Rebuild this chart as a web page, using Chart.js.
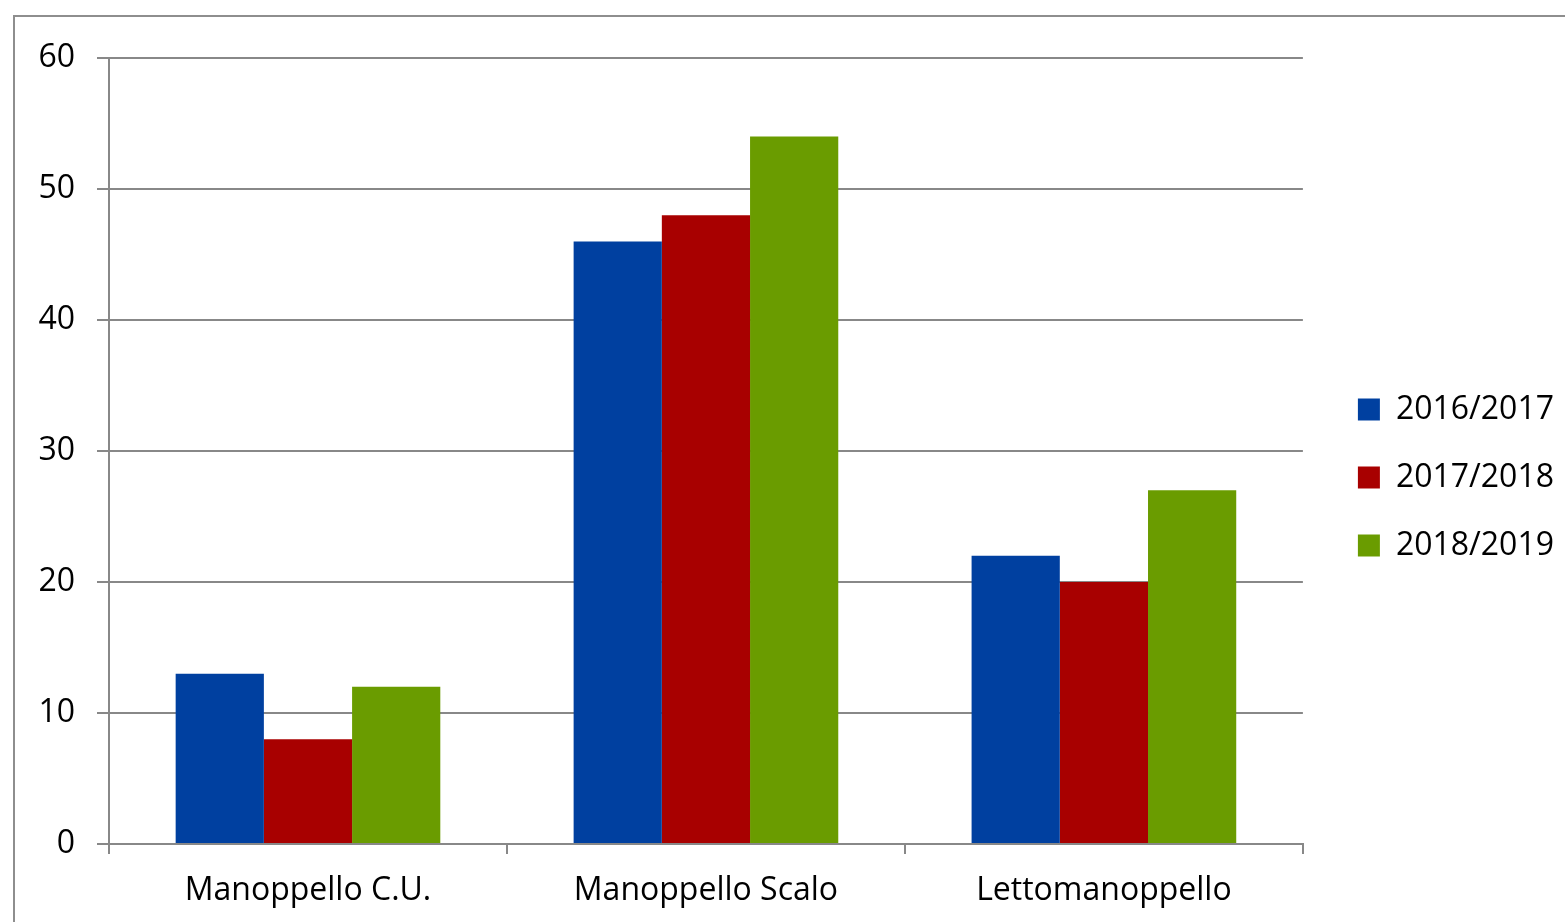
<!DOCTYPE html>
<html>
<head>
<meta charset="utf-8">
<script src="https://cdn.jsdelivr.net/npm/chart.js@4"></script>
<style>
  html, body { margin: 0; padding: 0; background: #ffffff; overflow: hidden; }
  #wrap { position: relative; width: 1565px; height: 922px; }
  #frame { position: absolute; left: 13px; top: 15px; width: 1600px; height: 950px;
           border-left: 2px solid #8e8e8e; border-top: 2px solid #8e8e8e; pointer-events: none; }
  canvas { position: absolute; left: 0; top: 0; }
</style>
</head>
<body>
<div id="wrap">
  <canvas id="c" width="1565" height="922"></canvas>
  <div id="frame"></div>
</div>
<script>
const categories = ['Manoppello C.U.', 'Manoppello Scalo', 'Lettomanoppello'];
const seriesNames = ['2016/2017', '2017/2018', '2018/2019'];
const values2016 = [13, 46, 22];
const values2017 = [8, 48, 20];
const values2018 = [12, 54, 27];
const seriesColors = ['#0040a0', '#a80000', '#6a9c00'];
const yTicks = [0, 10, 20, 30, 40, 50, 60];

const FONT = "'Open Sans', 'Noto Sans', sans-serif";
const gridColor = '#888888';

new Chart(document.getElementById('c'), {
  type: 'bar',
  data: {
    labels: categories,
    datasets: [values2016, values2017, values2018].map((v, i) => ({
      label: seriesNames[i],
      data: v,
      backgroundColor: seriesColors[i],
      borderWidth: 0,
      categoryPercentage: 0.665,
      barPercentage: 1.0
    }))
  },
  options: {
    responsive: false,
    animation: false,
    devicePixelRatio: 1,
    layout: { padding: { left: 39, top: 58, right: 1, bottom: 0 } },
    plugins: {
      tooltip: { enabled: false },
      legend: {
        position: 'right',
        align: 'center',
        fullSize: false,
        title: { display: true, text: '', padding: 0, font: { size: 53, lineHeight: 1 } },
        labels: {
          boxWidth: 22,
          boxHeight: 22,
          padding: 36,
          color: '#000000',
          font: { family: FONT, size: 32 }
        }
      }
    },
    scales: {
      x: {
        afterFit: (s) => { s.height = 78; },
        grid: { display: true, offset: true, drawOnChartArea: false, drawTicks: true,
                tickLength: 10, color: gridColor, lineWidth: 2 },
        border: { display: true, color: gridColor, width: 2 },
        ticks: { color: '#000000', padding: 18, font: { family: FONT, size: 32 } }
      },
      y: {
        min: 0,
        max: 60,
        afterFit: (s) => { s.width = 70; },
        afterBuildTicks: (s) => { s.ticks = yTicks.map(v => ({ value: v })); },
        grid: { color: gridColor, lineWidth: 2, tickLength: 12 },
        border: { display: true, color: gridColor, width: 2 },
        ticks: { color: '#000000', padding: 22, font: { family: FONT, size: 32 } }
      },
      yPad: {
        position: 'right',
        display: true,
        grid: { display: false },
        border: { display: false },
        ticks: { display: false },
        afterFit: (s) => { s.width = 19; }
      }
    }
  }
});
</script>
</body>
</html>
